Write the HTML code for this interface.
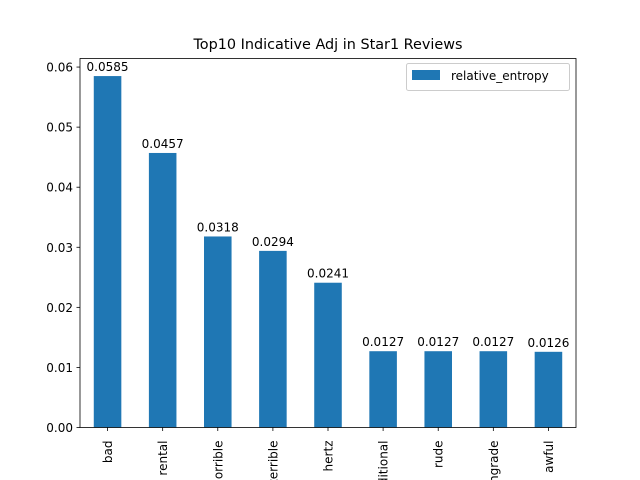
<!DOCTYPE html>
<html><head><meta charset="utf-8"><style>
html,body{margin:0;background:#fff;overflow:hidden;width:640px;height:480px}
svg{display:block;overflow:hidden;font-family:"DejaVu Sans","Liberation Sans",sans-serif}
</style></head><body>
<svg id="chart" width="640" height="480">
<defs><clipPath id="frameclip"><rect x="0" y="0" width="640" height="480"/></clipPath></defs>
<text x="328" y="49" font-size="14.4" text-anchor="middle" fill="#000">Top10 Indicative Adj in Star1 Reviews</text>
<g id="marks"></g>
<g id="xlabels" clip-path="url(#frameclip)"></g>
<rect x="80" y="58.5" width="496" height="369" fill="none" stroke="#000" stroke-width="0.8"/>
<g>
<rect x="406.5" y="63.5" width="163" height="27" rx="2" fill="#fff" stroke="#ccc"/>
<rect x="412" y="70" width="28" height="10" fill="#1f77b4"/>
<text x="451" y="80" font-size="12" fill="#000">relative_entropy</text>
</g>
</svg>
<script>
const categories=["bad","rental","horrible","terrible","hertz","additional","rude","downgrade","awful"];
const values=[0.0585,0.0457,0.0318,0.0294,0.0241,0.0127,0.0127,0.0127,0.0126];
const valueLabels=["0.0585","0.0457","0.0318","0.0294","0.0241","0.0127","0.0127","0.0127","0.0126"];
const yTicks=[0,0.01,0.02,0.03,0.04,0.05,0.06];
const yTickLabels=["0.00","0.01","0.02","0.03","0.04","0.05","0.06"];
const NS="http://www.w3.org/2000/svg";
const L=80,R=576,T=58.5,B=427.5;
const ymax=Math.max(...values)*1.05;
const y=v=>B-(v/ymax)*(B-T);
const step=(R-L)/categories.length;
const x=i=>L+step*(i+0.5);
const g=document.getElementById('marks');
const gx=document.getElementById('xlabels');
function mk(tag,attrs,parent){const e=document.createElementNS(NS,tag);for(const k in attrs)e.setAttribute(k,attrs[k]);(parent||g).appendChild(e);return e;}
values.forEach((v,i)=>{
 const bw=step*0.5;
 const r=mk('rect',{x:x(i)-bw/2,y:y(v),width:bw,height:B-y(v),fill:'#1f77b4'});
 
 
 const t=mk('text',{x:x(i),y:y(v)-5,'font-size':'12','text-anchor':'middle',fill:'#000'});
 t.textContent=valueLabels[i];
 
 
 const tk=mk('line',{x1:x(i),x2:x(i),y1:B,y2:B+3.5,stroke:'#000','stroke-width':0.8});
 
 
 const xl=mk('text',{transform:`translate(${x(i)+4.5},${B+13}) rotate(-90)`,'font-size':'12','text-anchor':'end',fill:'#000'},gx);
 xl.textContent=categories[i];
 
 
});
yTicks.forEach((v,i)=>{
 const tk=mk('line',{x1:L-3.5,x2:L,y1:y(v),y2:y(v),stroke:'#000','stroke-width':0.8});
 
 
 const tl=mk('text',{x:L-7,y:y(v)+4.5,'font-size':'12','text-anchor':'end',fill:'#000'});
 tl.textContent=yTickLabels[i];
 
 
});
</script>
</body></html>
